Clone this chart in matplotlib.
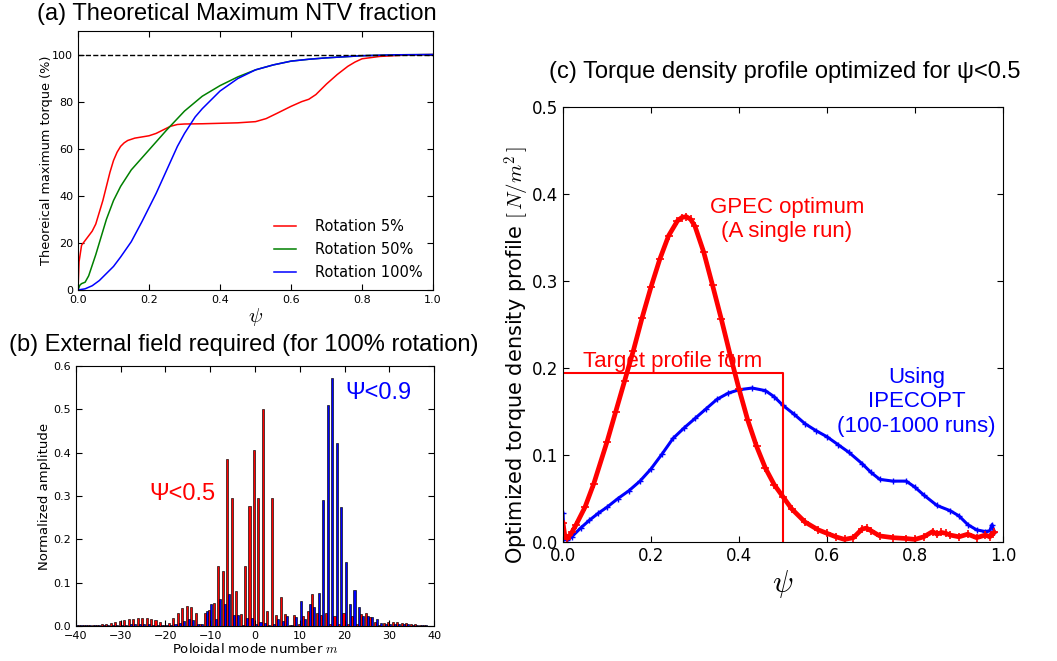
import numpy as np
import matplotlib
matplotlib.use('Agg')
import matplotlib.pyplot as plt

plt.rcParams['font.family'] = 'DejaVu Sans'
plt.rcParams['mathtext.fontset'] = 'cm'
plt.rcParams['xtick.direction'] = 'in'
plt.rcParams['ytick.direction'] = 'in'
plt.rcParams['xtick.top'] = True
plt.rcParams['ytick.right'] = True
plt.rcParams['xtick.major.size'] = 4
plt.rcParams['ytick.major.size'] = 4
plt.rcParams['axes.unicode_minus'] = True

SANS = 'Liberation Sans'

# (a) theoretical maximum NTV fraction
psi_rot5 = [0, 0.003, 0.01, 0.02, 0.03, 0.04, 0.05, 0.06, 0.07, 0.08, 0.09, 0.1, 0.11, 0.12,
            0.13, 0.14, 0.16, 0.18, 0.2, 0.22, 0.24, 0.26, 0.28, 0.3, 0.35, 0.4, 0.45, 0.5,
            0.53, 0.56, 0.6, 0.63, 0.65, 0.67, 0.7, 0.73, 0.76, 0.78, 0.8, 0.85, 0.9, 0.95, 1.0]
torque_rot5 = [0, 12, 19, 21, 23, 25, 28, 33, 38, 44, 50, 55, 58.5, 61,
               62.5, 63.5, 64.5, 65, 65.5, 66.5, 68, 69.5, 70.3, 70.5, 70.6, 70.8, 71.0, 71.5,
               72.8, 75, 78, 80, 81, 83, 87.5, 91.5, 95, 96.8, 98.2, 99.2, 99.6, 99.9, 100]
psi_rot50 = [0, 0.005, 0.01, 0.02, 0.03, 0.04, 0.05, 0.06, 0.08, 0.1, 0.12, 0.15, 0.2, 0.25,
             0.3, 0.35, 0.4, 0.45, 0.5, 0.55, 0.6, 0.65, 0.7, 0.8, 0.9, 1.0]
torque_rot50 = [0, 2, 2.7, 3.3, 6, 10.5, 15, 20, 30, 38, 44, 51, 59.5, 68,
                76, 82.3, 86.8, 90.5, 93.5, 95.6, 97.2, 98, 98.6, 99.5, 99.9, 100]
psi_rot100 = [0, 0.02, 0.04, 0.06, 0.08, 0.1, 0.12, 0.15, 0.18, 0.2, 0.22, 0.25, 0.28, 0.3,
              0.33, 0.35, 0.38, 0.4, 0.45, 0.5, 0.55, 0.6, 0.65, 0.7, 0.8, 0.9, 1.0]
torque_rot100 = [0, 0.5, 1.8, 4, 7, 10, 14, 20.5, 29, 35, 41, 51, 61, 66.5,
                 73.5, 77, 81.5, 84.5, 89.8, 93.5, 95.6, 97.2, 98, 98.6, 99.5, 99.9, 100]

# (b) external field spectrum, m = -40..40
mode_m = np.arange(-40, 41)
amp_psi05 = [0.002, 0.002, 0.002, 0.002, 0.002, 0.003, 0.004, 0.005, 0.007, 0.009,
             0.011, 0.013, 0.015, 0.017, 0.018, 0.018, 0.018, 0.017, 0.014, 0.010,
             0.002, 0.008, 0.019, 0.030, 0.041, 0.047, 0.044, 0.031, 0.005, 0.030,
             0.037, 0.053, 0.138, 0.127, 0.385, 0.295, 0.081, 0.027, 0.138, 0.277,
             0.405, 0.295, 0.500, 0.035, 0.295, 0.025, 0.067, 0.027, 0.002, 0.025,
             0.004, 0.023, 0.035, 0.074, 0.030, 0.026, 0.030, 0.005, 0.023, 0.005,
             0.030, 0.005, 0.022, 0.004, 0.027, 0.030, 0.020, 0.010, 0.003, 0.008,
             0.010, 0.010, 0.009, 0.008, 0.006, 0.005, 0.004, 0.003, 0.002, 0.001,
             0.001]
amp_psi09 = [0.002, 0.002, 0.002, 0.002, 0.002, 0.002, 0.003, 0.003, 0.003, 0.003,
             0.003, 0.003, 0.004, 0.004, 0.004, 0.004, 0.004, 0.003, 0.003, 0.002,
             0.002, 0.003, 0.004, 0.008, 0.012, 0.015, 0.013, 0.005, 0.005, 0.035,
             0.050, 0.017, 0.063, 0.050, 0.073, 0.025, 0.025, 0.003, 0.018, 0.018,
             0.004, 0.010, 0.008, 0.003, 0.004, 0.015, 0.012, 0.022, 0.002, 0.020,
             0.058, 0.015, 0.050, 0.043, 0.077, 0.290, 0.510, 0.573, 0.423, 0.275,
             0.148, 0.050, 0.083, 0.043, 0.022, 0.022, 0.020, 0.015, 0.008, 0.005,
             0.004, 0.004, 0.005, 0.005, 0.004, 0.003, 0.003, 0.002, 0.002, 0.001,
             0.001]

# (c) torque density profiles
psi_gpec = [0.0, 0.004, 0.01, 0.02, 0.03, 0.05, 0.07, 0.1, 0.12, 0.14, 0.16, 0.18, 0.2, 0.22,
            0.24, 0.26, 0.27, 0.28, 0.29, 0.3, 0.32, 0.34, 0.36, 0.38, 0.4, 0.42, 0.44, 0.46,
            0.48, 0.5, 0.52, 0.55, 0.58, 0.6, 0.62, 0.64, 0.66, 0.68, 0.69, 0.7, 0.72, 0.75,
            0.78, 0.8, 0.82, 0.84, 0.85, 0.86, 0.87, 0.88, 0.9, 0.92, 0.94, 0.96, 0.97, 0.98]
torque_gpec = [0.022, 0.008, 0.004, 0.011, 0.02, 0.04, 0.067, 0.115, 0.15, 0.185, 0.22, 0.258,
               0.293, 0.325, 0.352, 0.369, 0.373, 0.374, 0.371, 0.363, 0.333, 0.295, 0.256,
               0.215, 0.176, 0.14, 0.11, 0.085, 0.066, 0.052, 0.038, 0.023, 0.014, 0.01,
               0.006, 0.003, 0.005, 0.015, 0.016, 0.013, 0.007, 0.005, 0.004, 0.003, 0.006,
               0.012, 0.009, 0.011, 0.01, 0.008, 0.006, 0.009, 0.005, 0.008, 0.006, 0.011]
psi_ipecopt = [0.0, 0.003, 0.01, 0.02, 0.04, 0.06, 0.08, 0.1, 0.125, 0.15, 0.175, 0.2, 0.225,
               0.25, 0.275, 0.3, 0.325, 0.35, 0.375, 0.4, 0.43, 0.46, 0.48, 0.5, 0.525, 0.55,
               0.575, 0.6, 0.625, 0.65, 0.68, 0.7, 0.72, 0.75, 0.78, 0.8, 0.82, 0.85, 0.88,
               0.9, 0.92, 0.94, 0.96, 0.97, 0.975, 0.98]
torque_ipecopt = [0.033, 0.005, 0.002, 0.006, 0.016, 0.025, 0.033, 0.04, 0.05, 0.059, 0.07,
                  0.084, 0.101, 0.119, 0.131, 0.142, 0.153, 0.164, 0.171, 0.175, 0.177, 0.174,
                  0.167, 0.157, 0.147, 0.136, 0.128, 0.121, 0.112, 0.103, 0.09, 0.08, 0.072,
                  0.07, 0.07, 0.063, 0.054, 0.042, 0.036, 0.03, 0.02, 0.014, 0.012, 0.013,
                  0.02, 0.012]
target_psi = [0.005, 0.5, 0.5]
target_val = [0.194, 0.194, 0.0]

fig = plt.figure(figsize=(10.57, 6.61), dpi=100)
fig.patch.set_facecolor('white')

# ---- panel (a)
ax_a = fig.add_axes([0.0738, 0.5613, 0.3359, 0.3918])
ax_a.plot(psi_rot5, torque_rot5, color='red', lw=1.1, label='Rotation 5%')
ax_a.plot(psi_rot50, torque_rot50, color='green', lw=1.1, label='Rotation 50%')
ax_a.plot(psi_rot100, torque_rot100, color='blue', lw=1.1, label='Rotation 100%')
ax_a.axhline(100, color='black', ls='--', lw=1)
ax_a.set_xlim(0, 1)
ax_a.set_ylim(0, 110)
ax_a.set_xticks(np.arange(0, 1.01, 0.2))
ax_a.set_yticks(np.arange(0, 101, 20))
ax_a.tick_params(labelsize=8)
ax_a.set_xlabel(r'$\psi$', fontsize=15, labelpad=1)
ax_a.set_ylabel('Theoreical maximum torque (%)', fontsize=9.3)
ax_a.yaxis.set_label_coords(-0.07, 0.5)
ax_a.legend(loc='lower right', frameon=False, fontsize=10.5, handlelength=1.5,
            handletextpad=1.3, borderaxespad=0.3, labelspacing=0.55)

# ---- panel (b)
ax_b = fig.add_axes([0.0719, 0.0530, 0.3387, 0.3933])
ax_b.bar(mode_m - 0.23, amp_psi05, width=0.46, color='red', edgecolor='black', linewidth=0.45)
ax_b.bar(mode_m + 0.23, amp_psi09, width=0.46, color='blue', edgecolor='black', linewidth=0.45)
ax_b.set_xlim(-40, 40)
ax_b.set_ylim(0, 0.6)
ax_b.set_xticks(np.arange(-40, 41, 10))
ax_b.set_yticks(np.arange(0, 0.61, 0.1))
ax_b.yaxis.set_major_formatter(matplotlib.ticker.FormatStrFormatter('%.1f'))
ax_b.tick_params(labelsize=8)
ax_b.set_xlabel(r'Poloidal mode number $m$', fontsize=9.5, labelpad=1)
ax_b.set_ylabel('Normalized amplitude', fontsize=9.5, labelpad=2)
ax_b.text(-16.3, 0.305, 'Ψ<0.5', color='red', fontsize=17, family=SANS, ha='center', va='center')
ax_b.text(27.5, 0.538, 'Ψ<0.9', color='blue', fontsize=17, family=SANS, ha='center', va='center')

# ---- panel (c)
ax_c = fig.add_axes([0.5326, 0.1800, 0.4163, 0.6581])
ax_c.plot(psi_ipecopt, torque_ipecopt, color='blue', lw=2.2, marker='+', ms=5, mew=1)
ax_c.plot(psi_gpec, torque_gpec, color='red', lw=3.4, marker='+', ms=6, mew=1.2)
ax_c.plot(target_psi, target_val, color='red', lw=1.5)
ax_c.set_xlim(0, 1)
ax_c.set_ylim(0, 0.5)
ax_c.set_xticks(np.arange(0, 1.01, 0.2))
ax_c.set_yticks(np.arange(0, 0.51, 0.1))
ax_c.tick_params(labelsize=12)
ax_c.set_xlabel(r'$\psi$', fontsize=22, labelpad=2)
ax_c.set_ylabel(r'Optimized torque density profile $[\,N/m^2\,]$', fontsize=15)
ax_c.yaxis.set_label_coords(-0.07, 0.43)
ax_c.text(0.509, 0.371, 'GPEC optimum\n(A single run)', color='red', fontsize=16,
          family=SANS, ha='center', va='center', linespacing=1.2)
ax_c.text(0.045, 0.201, 'Target profile form', color='red', fontsize=16,
          family=SANS, ha='left', va='baseline')
ax_c.text(0.804, 0.161, 'Using\nIPECOPT\n(100-1000 runs)', color='blue', fontsize=16,
          family=SANS, ha='center', va='center', linespacing=1.2)

# titles
fig.text(0.2242, 0.979, '(a) Theoretical Maximum NTV fraction', fontsize=17,
         family=SANS, ha='center', va='center')
fig.text(0.2308, 0.478, '(b) External field required (for 100% rotation)', fontsize=17,
         family=SANS, ha='center', va='center')
fig.text(0.7427, 0.891, '(c) Torque density profile optimized for ψ<0.5', fontsize=17,
         family=SANS, ha='center', va='center')

fig.savefig('out.png', dpi=100, facecolor='white')
